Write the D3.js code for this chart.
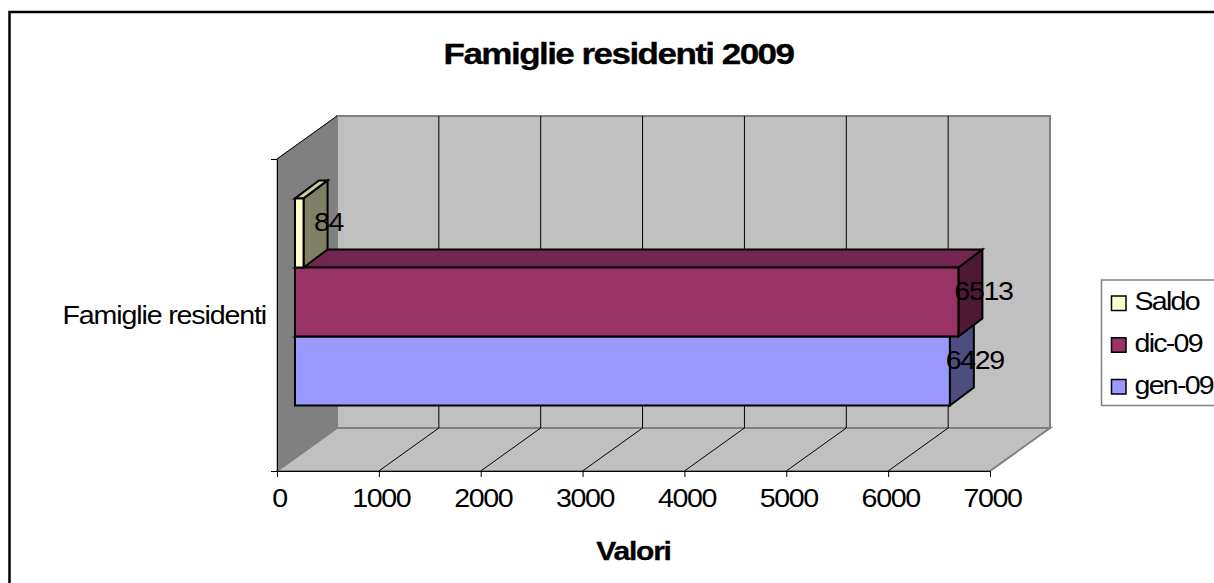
<!DOCTYPE html>
<html>
<head>
<meta charset="utf-8">
<script src="https://cdn.jsdelivr.net/npm/d3@7"></script>
<style>
  html, body { margin: 0; padding: 0; background: #fff; overflow: hidden; }
  svg { display: block; }
  text { font-family: "Liberation Sans", Arial, sans-serif; fill: #000; }
</style>
</head>
<body>
<div id="chart"></div>
<script>
const categories = ['Famiglie residenti']
const seriesNames = ['gen-09', 'dic-09', 'Saldo']
const seriesValues = [6429, 6513, 84]
const xTicks = [0, 1000, 2000, 3000, 4000, 5000, 6000, 7000]
const legendNames = ['Saldo', 'dic-09', 'gen-09']

const width = 1214
const height = 583

const colors = {
  'gen-09': { front: '#9999ff', top: '#7a7acc', side: '#4d4d80' },
  'dic-09': { front: '#993366', top: '#732650', side: '#4d1933' },
  'Saldo': { front: '#ffffcc', top: '#cccca3', side: '#808066' }
}

// front plane of the 3d box, the back wall is shifted by depth
const plot = { left: 277, right: 990, top: 159, bottom: 471 }
const depth = { x: 60, y: -43 }
const barInset = { x: 18, y: -13 }
const barDepth = { x: 24, y: -18 }

const x = d3.scaleLinear().domain([0, 7000]).range([plot.left, plot.right])
const y = d3.scaleBand().domain(categories)
  .range([plot.bottom, plot.top])
  .paddingOuter(0.253)
  .paddingInner(0)
const ySeries = d3.scaleBand().domain(seriesNames).range([0, y.bandwidth()])

// the original glyphs are wide and set tight: scale them in x, pull the spacing in
const wide = (sel, px, py, size, sx, spacing) => sel
  .attr('x', 0)
  .attr('y', 0)
  .attr('dx', null)
  .attr('dy', null)
  .attr('transform', (d, i) => `translate(${typeof px === 'function' ? px(d, i) : px},${typeof py === 'function' ? py(d, i) : py}) scale(${sx},1)`)
  .attr('font-size', size)
  .attr('letter-spacing', spacing)

const svg = d3.select('#chart').append('svg')
  .attr('width', width)
  .attr('height', height)

// outer frame runs off the right and bottom of the picture
svg.append('rect')
  .attr('x', 9.5).attr('y', 12)
  .attr('width', 1300).attr('height', 700)
  .attr('fill', '#fff')
  .attr('stroke', '#000')
  .attr('stroke-width', 2.5)

const poly = (pts, fill, stroke, sw) => svg.append('polygon')
  .attr('points', pts.map(p => p.join(',')).join(' '))
  .attr('fill', fill)
  .attr('stroke', stroke)
  .attr('stroke-width', sw)

// walls
const bx = v => x(v) + depth.x
poly([[bx(0), plot.top + depth.y], [bx(7000), plot.top + depth.y], [bx(7000), plot.bottom + depth.y], [bx(0), plot.bottom + depth.y]], '#c0c0c0', '#808080', 2)
poly([[x(0), plot.bottom], [x(7000), plot.bottom], [bx(7000), plot.bottom + depth.y], [bx(0), plot.bottom + depth.y]], '#c0c0c0', '#808080', 2)
poly([[x(0), plot.top], [bx(0), plot.top + depth.y], [bx(0), plot.bottom + depth.y], [x(0), plot.bottom]], '#808080', '#808080', 1)

// grid lines on back wall and floor
svg.append('g').selectAll('path')
  .data(xTicks.slice(1, -1))
  .enter().append('path')
    .attr('d', d => `M${x(d)},${plot.bottom}L${bx(d)},${plot.bottom + depth.y}L${bx(d)},${plot.top + depth.y}`)
    .attr('fill', 'none')
    .attr('stroke', '#000')
    .attr('stroke-width', 1)

svg.append('path')
  .attr('d', `M${x(0)},${plot.top}L${bx(0)},${plot.top + depth.y}`)
  .attr('stroke', '#000')
  .attr('fill', 'none')

// bars
const bars = seriesNames.map((name, i) => {
  const x0 = x(0) + barInset.x
  const x1 = x(seriesValues[i]) + barInset.x
  const top = y(categories[0]) + barInset.y + y.bandwidth() - ySeries(name) - ySeries.bandwidth()
  const bottom = top + ySeries.bandwidth()
  return { name, value: seriesValues[i], x0, x1, top, bottom }
})

bars.forEach(b => {
  const c = colors[b.name]
  const dx = barDepth.x
  const dy = barDepth.y
  poly([[b.x1, b.top], [b.x1 + dx, b.top + dy], [b.x1 + dx, b.bottom + dy], [b.x1, b.bottom]], c.side, '#000', 2)
  poly([[b.x0, b.top], [b.x0 + dx, b.top + dy], [b.x1 + dx, b.top + dy], [b.x1, b.top]], c.top, '#000', 2)
  poly([[b.x0, b.top], [b.x1, b.top], [b.x1, b.bottom], [b.x0, b.bottom]], c.front, '#000', 2)
})

// data labels
svg.append('g').selectAll('text')
  .data(bars)
  .enter().append('text')
    .attr('text-anchor', 'middle')
    .text(d => d.value)
    .call(wide, d => d.x1 + barDepth.x + 1, d => (d.top + d.bottom) / 2 - 2, 26, 1.1, -1.27)

// axes
const xAxis = d3.axisBottom(x).tickValues(xTicks).tickSize(6).tickSizeOuter(0).tickFormat(d3.format('d'))
const xg = svg.append('g').attr('transform', `translate(0,${plot.bottom})`).call(xAxis)
xg.select('.domain').attr('stroke', '#000')
xg.selectAll('line').attr('stroke', '#000')
xg.selectAll('text')
  .call(wide, 2, 36, 26, 1.1, -1.27)

const yAxis = d3.axisLeft(d3.scaleLinear().domain([0, 1]).range([plot.bottom, plot.top]))
  .tickValues([0, 1]).tickSize(6).tickSizeOuter(0).tickFormat('')
const yg = svg.append('g').attr('transform', `translate(${plot.left},0)`).call(yAxis)
yg.select('.domain').attr('stroke', '#000')
yg.selectAll('line').attr('stroke', '#000')

svg.append('text')
  .attr('text-anchor', 'end')
  .text(categories[0])
  .call(wide, 266, 324, 26, 1.1, -1.04)

svg.append('text')
  .attr('text-anchor', 'middle')
  .attr('font-weight', 'bold')
  .attr('stroke', '#000')
  .attr('stroke-width', 0.3)
  .text('Famiglie residenti 2009')
  .call(wide, 618.5, 64, 30, 1.17, -1.34)

svg.append('text')
  .attr('text-anchor', 'middle')
  .attr('font-weight', 'bold')
  .attr('stroke', '#000')
  .attr('stroke-width', 0.3)
  .text('Valori')
  .call(wide, 633.5, 560, 25, 1.2, -1)

// legend
svg.append('rect')
  .attr('x', 1101.5).attr('y', 280)
  .attr('width', 130).attr('height', 125.5)
  .attr('fill', '#fff')
  .attr('stroke', '#808080')
  .attr('stroke-width', 1.5)

const legendY = d3.scalePoint().domain(legendNames).range([303, 386.5])
const legend = svg.append('g').selectAll('g')
  .data(legendNames)
  .enter().append('g')
    .attr('transform', d => `translate(1111.5,${legendY(d)})`)
legend.append('rect')
  .attr('x', 0).attr('y', -7)
  .attr('width', 14.5).attr('height', 14.5)
  .attr('fill', d => colors[d].front)
  .attr('stroke', '#000')
  .attr('stroke-width', 1.5)
legend.append('text')
  .text(d => d)
  .call(wide, 23, 7, 26, 1.1, -1.6)
</script>
</body>
</html>
